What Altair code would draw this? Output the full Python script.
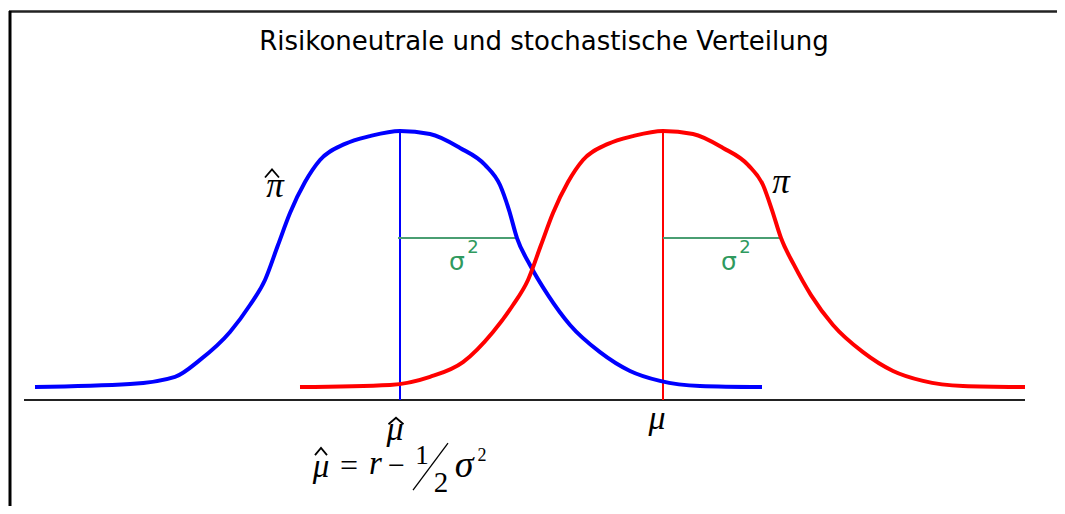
import altair as alt
import pandas as pd

# ---- data (x in units where mu_hat = 0, mu = 2.63; y = density, peak = 1) ----
blue_x = [-3.65, -2.70, -2.25, -2.00, -1.70, -1.50, -1.35, -1.22, -1.10, -0.95, -0.80, -0.55, -0.30, 0.00,
          0.30, 0.60, 0.85, 1.00, 1.09, 1.17, 1.30, 1.48, 1.70, 2.00, 2.30, 2.60, 3.00, 3.62]
blue_y = [0.048, 0.059, 0.086, 0.149, 0.253, 0.353, 0.446, 0.576, 0.695, 0.810, 0.892, 0.952, 0.981, 1.000,
          0.989, 0.937, 0.874, 0.799, 0.706, 0.602, 0.502, 0.390, 0.279, 0.178, 0.108, 0.071, 0.052, 0.048]
red_x = [-1.00, -0.10, 0.30, 0.63, 0.93, 1.13, 1.28, 1.41, 1.53, 1.68, 1.83, 2.08, 2.33, 2.63,
         2.93, 3.23, 3.48, 3.63, 3.72, 3.81, 3.94, 4.11, 4.33, 4.63, 4.93, 5.23, 5.63, 6.25]
red_y = [0.048, 0.056, 0.086, 0.141, 0.253, 0.353, 0.446, 0.576, 0.695, 0.810, 0.892, 0.952, 0.981, 1.000,
         0.989, 0.937, 0.874, 0.799, 0.706, 0.602, 0.502, 0.390, 0.279, 0.178, 0.108, 0.071, 0.052, 0.048]

means = [0.0, 2.63]              # mu_hat, mu
peak = [1.0, 1.0]
sigma_end = [1.17, 3.81]         # end of sigma^2 segments
sigma_level = 0.602
axis_from, axis_to = -3.76, 6.25

title_text = "Risikoneutrale und stochastische Verteilung"

# hat accents (circumflex) drawn as small polylines: id, x, y
hat_id = ["a", "a", "a", "b", "b", "b", "c", "c", "c"]
hat_x = [-1.35, -1.28, -1.21, -0.115, -0.04, 0.035, -0.85, -0.79, -0.73]
hat_y = [0.827, 0.857, 0.827, -0.09, -0.066, -0.09, -0.205, -0.178, -0.205]

W, H = 1049, 498
xs = alt.Scale(domain=[-3.92, 6.57], nice=False, zero=False)
ys = alt.Scale(domain=[-0.3941, 1.4572], nice=False, zero=False)
X = lambda f: alt.X(f, type="quantitative", scale=xs, axis=None)
Y = lambda f: alt.Y(f, type="quantitative", scale=ys, axis=None)

blue_df = pd.DataFrame({"x": blue_x, "y": blue_y})
red_df = pd.DataFrame({"x": red_x, "y": red_y})

blue = alt.Chart(blue_df).mark_line(color="#0000ff", strokeWidth=4, interpolate="monotone").encode(x=X("x"), y=Y("y"))
red = alt.Chart(red_df).mark_line(color="#ff0000", strokeWidth=4, interpolate="monotone").encode(x=X("x"), y=Y("y"))

vdf = pd.DataFrame({"x": means, "y": [0, 0], "y2": peak, "c": ["#0000ff", "#ff0000"]})
vlines = alt.Chart(vdf).mark_rule(strokeWidth=2).encode(
    x=X("x"), y=Y("y"), y2="y2", color=alt.Color("c:N", scale=None))

gdf = pd.DataFrame({"x": [means[0] - 0.02, means[1]], "x2": sigma_end, "y": [sigma_level] * 2})
glines = alt.Chart(gdf).mark_rule(strokeWidth=2, color="#4a9e72").encode(x=X("x"), x2="x2", y=Y("y"))

sdf = pd.DataFrame({"x": [0.57, 3.29], "y": [0.513, 0.513], "t": ["σ", "σ"]})
sig_text = alt.Chart(sdf).mark_text(font="DejaVu Sans", fontSize=25, color="#2f9a5e",
                                    align="center", baseline="middle").encode(x=X("x"), y=Y("y"), text="t")
s2df = pd.DataFrame({"x": [0.73, 3.45], "y": [0.565, 0.565], "t": ["2", "2"]})
sig_sup = alt.Chart(s2df).mark_text(font="DejaVu Sans", fontSize=18, color="#2f9a5e",
                                    align="center", baseline="middle").encode(x=X("x"), y=Y("y"), text="t")

adf = pd.DataFrame({"x": [axis_from], "x2": [axis_to], "y": [0.0]})
axis_line = alt.Chart(adf).mark_rule(strokeWidth=2, color="#222222").encode(x=X("x"), x2="x2", y=Y("y"))

# italic math labels
idf = pd.DataFrame({
    "x": [-1.25, 3.81, -0.05, 2.57, -0.79, -0.245, 0.64],
    "y": [0.795, 0.81, -0.113, -0.07, -0.248, -0.238, -0.246],
    "t": ["π", "π", "μ", "μ", "μ", "r", "σ"],
    "s": [35, 35, 34, 34, 33, 33, 38],
})
ital = alt.Chart(idf).mark_text(font="Liberation Serif", fontStyle="italic", color="black",
                                align="center", baseline="middle").encode(
    x=X("x"), y=Y("y"), text="t", size=alt.Size("s:Q", scale=None, legend=None))

hdf = pd.DataFrame({"id": hat_id, "x": hat_x, "y": hat_y})
hats = alt.Chart(hdf).mark_line(color="black", strokeWidth=1.8).encode(
    x=X("x"), y=Y("y"), detail="id:N")

# upright formula pieces
udf = pd.DataFrame({
    "x": [-0.51, -0.035, 0.22, 0.41, 0.82],
    "y": [-0.245, -0.245, -0.207, -0.307, -0.207],
    "t": ["=", "−", "1", "2", "2"],
    "s": [32, 30, 27, 29, 18],
})
upr = alt.Chart(udf).mark_text(font="Liberation Serif", color="black", align="center", baseline="middle").encode(
    x=X("x"), y=Y("y"), text="t", size=alt.Size("s:Q", scale=None, legend=None))

slash_df = pd.DataFrame({"x": [0.13], "x2": [0.48], "y": [-0.335], "y2": [-0.16]})
slash = alt.Chart(slash_df).mark_rule(strokeWidth=1.3, color="black").encode(
    x=X("x"), x2="x2", y=Y("y"), y2="y2")

tdf = pd.DataFrame({"t": [title_text]})
title = alt.Chart(tdf).mark_text(font="DejaVu Sans", fontSize=26, color="black", align="center",
                                 baseline="middle").encode(x=alt.value(536), y=alt.value(34), text="t")

frame_top = alt.Chart(pd.DataFrame({"k": [0]})).mark_rule(strokeWidth=2.5, color="#222222").encode(
    x=alt.value(1), x2=alt.value(1049), y=alt.value(3.5))
frame_left = alt.Chart(pd.DataFrame({"k": [0]})).mark_rule(strokeWidth=3, color="black").encode(
    x=alt.value(2), y=alt.value(3), y2=alt.value(498))

chart = alt.layer(frame_top, frame_left, title, axis_line, vlines, glines, sig_text, sig_sup, blue, red,
                  ital, hats, upr, slash).properties(
    width=W, height=H, padding=0, autosize=alt.AutoSizeParams(type="none")
).configure_view(stroke=None)

chart.save("out.html", embed_options={"renderer": "svg", "actions": False})
